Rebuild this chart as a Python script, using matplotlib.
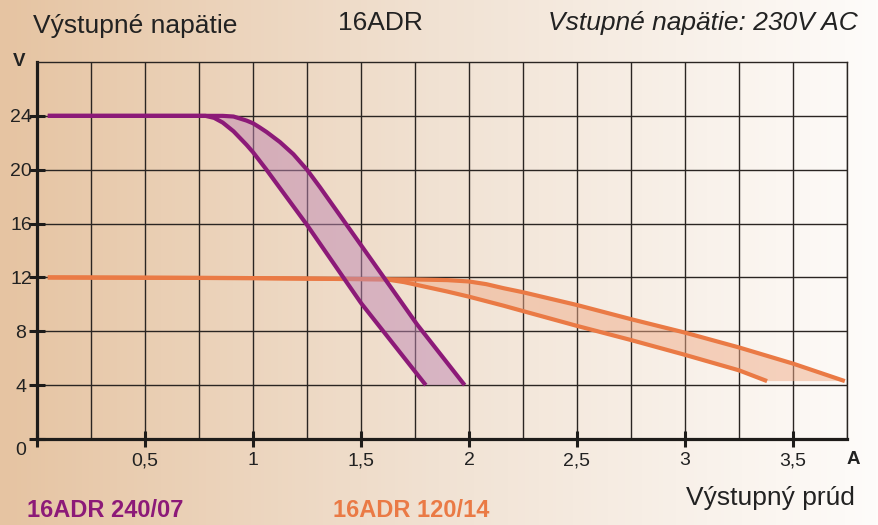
import numpy as np
import matplotlib
matplotlib.use("Agg")
from matplotlib import pyplot as plt
from matplotlib.colors import LinearSegmentedColormap
from matplotlib.transforms import ScaledTranslation

plt.rcParams['font.family'] = ['Liberation Sans', 'DejaVu Sans']

# 16ADR 240/07 - upper and lower limit curves (A, V)
p_hi_x = [0.05, 0.86, 0.91, 0.97, 1.0, 1.03, 1.063, 1.125, 1.187, 1.25, 1.31, 1.5, 1.76, 1.98]
p_hi_y = [24.0, 24.0, 23.95, 23.65, 23.45, 23.15, 22.8, 22.05, 21.15, 20.0, 18.7, 14.4, 8.5, 4.0]
p_lo_x = [0.05, 0.78, 0.82, 0.86, 0.91, 0.97, 1.0, 1.06, 1.25, 1.5, 1.8]
p_lo_y = [24.0, 24.0, 23.85, 23.5, 22.85, 21.85, 21.3, 20.05, 15.9, 10.1, 4.0]

# 16ADR 120/14
o_hi_x = [0.05, 1.0, 1.75, 1.9, 2.0, 2.08, 2.16, 2.25, 2.5, 2.75, 3.0, 3.25, 3.5, 3.74]
o_hi_y = [12.0, 11.95, 11.85, 11.8, 11.7, 11.5, 11.2, 10.9, 9.95, 8.9, 7.9, 6.8, 5.6, 4.3]
o_lo_x = [0.05, 1.0, 1.62, 1.7, 1.8, 1.9, 2.0, 2.16, 2.25, 2.5, 2.75, 3.0, 3.25, 3.38]
o_lo_y = [12.0, 11.95, 11.85, 11.65, 11.3, 10.95, 10.57, 9.9, 9.5, 8.4, 7.35, 6.25, 5.1, 4.3]

x_ticks = [0, 0.5, 1, 1.5, 2, 2.5, 3, 3.5]
x_labels = ['', '0,5', '1', '1,5', '2', '2,5', '3', '3,5']
y_ticks = [0, 4, 8, 12, 16, 20, 24]
y_labels = ['0', '4', '8', '12', '16', '20', '24']

purple = '#8c1a78'
orange = '#ea7a45'
ink = '#1e1c1a'

W, H = 879, 525
fig = plt.figure(figsize=(W / 100, H / 100), dpi=100)

# background gradient
bg = fig.add_axes([0, 0, 1, 1], zorder=-10)
cmap = LinearSegmentedColormap.from_list('bg', ['#e6c4a2', '#f1e2d3', '#fefcfa'])
bg.imshow(np.linspace(0, 1, 256)[None, :], aspect='auto', cmap=cmap, extent=[0, 1, 0, 1])
bg.set_axis_off()

ax = fig.add_axes([37 / W, (H - 439) / H, 810 / W, 377 / H])
ax.set_facecolor('none')
ax.set_xlim(0, 3.75)
ax.set_ylim(0, 28)

ax.set_xticks(x_ticks)
ax.set_xticklabels(x_labels)
ax.set_xticks(np.arange(0.25, 3.76, 0.25), minor=True)
ax.set_yticks(y_ticks)
ax.set_yticklabels(y_labels)
ax.grid(True, which='both', color='#2a2522', linewidth=1.0, zorder=0)
ax.set_axisbelow(True)

for s in ['left', 'bottom']:
    ax.spines[s].set_linewidth(2.3)
    ax.spines[s].set_color(ink)
for s in ['top', 'right']:
    ax.spines[s].set_linewidth(1.0)
    ax.spines[s].set_color('#2a2522')

ax.tick_params(which='major', direction='inout', length=11, width=2.2, color=ink,
               labelsize=14, labelcolor='#222222')
ax.tick_params(which='minor', length=0)
ax.tick_params(axis='x', pad=4)
ax.tick_params(axis='y', pad=6)
for lab in ax.get_yticklabels():
    lab.set_horizontalalignment('center')
ax.get_yticklabels()[0].set_transform(ax.get_yticklabels()[0].get_transform()
                                      + ScaledTranslation(0, -7 / 72, fig.dpi_scale_trans))

# 120/14 band
ax.fill(np.concatenate([o_hi_x, o_lo_x[::-1]]), np.concatenate([o_hi_y, o_lo_y[::-1]]),
        color='#f0ac88', alpha=0.5, lw=0, zorder=2)
ax.plot(o_hi_x, o_hi_y, color=orange, lw=3, solid_capstyle='butt', solid_joinstyle='round', zorder=3)
ax.plot(o_lo_x, o_lo_y, color=orange, lw=3, solid_capstyle='butt', solid_joinstyle='round', zorder=3)

# 240/07 band
ax.fill(np.concatenate([p_hi_x, p_lo_x[::-1]]), np.concatenate([p_hi_y, p_lo_y[::-1]]),
        color='#c088b4', alpha=0.5, lw=0, zorder=4)
ax.plot(p_hi_x, p_hi_y, color=purple, lw=3, solid_capstyle='butt', solid_joinstyle='round', zorder=5)
ax.plot(p_lo_x, p_lo_y, color=purple, lw=3, solid_capstyle='butt', solid_joinstyle='round', zorder=5)

# texts
fig.text(33 / W, (H - 33) / H, 'Výstupné napätie', fontsize=19, color='#222222', va='baseline')
fig.text(338 / W, (H - 30) / H, '16ADR', fontsize=19, color='#222222', va='baseline')
fig.text(858 / W, (H - 30) / H, 'Vstupné napätie: 230V AC', fontsize=19, style='italic',
         color='#222222', va='baseline', ha='right')
fig.text(19 / W, (H - 61) / H, 'V', fontsize=13.5, fontweight='bold', color='#222222',
         ha='center', va='center')
fig.text(853 / W, (H - 459) / H, 'A', fontsize=13.5, fontweight='bold', color='#222222',
         ha='center', va='center')
fig.text(855 / W, (H - 505) / H, 'Výstupný prúd', fontsize=19, color='#222222',
         ha='right', va='baseline')
fig.text(27 / W, (H - 517) / H, '16ADR 240/07', fontsize=17, fontweight='bold', color=purple,
         va='baseline')
fig.text(333 / W, (H - 517) / H, '16ADR 120/14', fontsize=17, fontweight='bold', color=orange,
         va='baseline')

fig.savefig('out.png', dpi=100)
